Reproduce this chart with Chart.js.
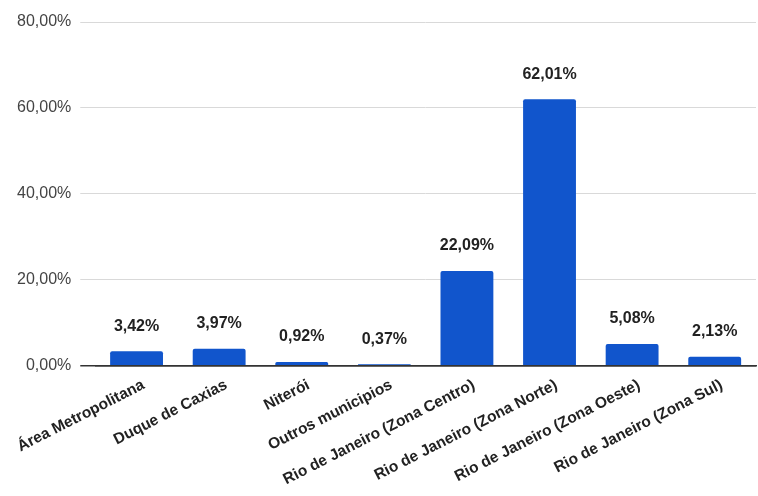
<!DOCTYPE html>
<html>
<head>
<meta charset="utf-8">
<script src="https://cdn.jsdelivr.net/npm/chart.js@4.4.1/dist/chart.umd.min.js"></script>
<style>
  html, body { margin: 0; padding: 0; background: #fff; }
  #wrap { width: 758px; height: 496px; }
</style>
</head>
<body>
<div id="wrap"><canvas id="grafico"></canvas></div>
<script>
var regioes = [
    'Área Metropolitana',
    'Duque de Caxias',
    'Niterói',
    'Outros municipios',
    'Rio de Janeiro (Zona Centro)',
    'Rio de Janeiro (Zona Norte)',
    'Rio de Janeiro (Zona Oeste)',
    'Rio de Janeiro (Zona Sul)'
];
var percentuais = [3.42, 3.97, 0.92, 0.37, 22.09, 62.01, 5.08, 2.13];
var marcasY = [0, 20, 40, 60, 80];

var fonte = 'Arial, "Liberation Sans", sans-serif';

function formatarPct(v) {
    return v.toFixed(2).replace('.', ',') + '%';
}

// escreve o valor acima de cada barra
var rotulosBarras = {
    id: 'rotulosBarras',
    afterDatasetsDraw: function (chart) {
        var ctx = chart.ctx;
        var meta = chart.getDatasetMeta(0);
        ctx.save();
        ctx.font = 'bold 16px ' + fonte;
        ctx.fillStyle = '#222';
        ctx.textAlign = 'center';
        ctx.textBaseline = 'middle';
        meta.data.forEach(function (bar, i) {
            ctx.fillText(formatarPct(percentuais[i]), bar.x, bar.y - 25);
        });
        ctx.restore();
    }
};

var ctx = document.getElementById('grafico').getContext('2d');
var grafico = new Chart(ctx, {
    type: 'bar',
    data: {
        labels: regioes,
        datasets: [{
            data: percentuais,
            backgroundColor: '#1155cc',
            borderRadius: 2,
            borderSkipped: 'bottom',
            barPercentage: 0.64,
            categoryPercentage: 1
        }]
    },
    options: {
        responsive: true,
        maintainAspectRatio: false,
        animation: false,
        layout: { padding: { top: 22, right: 2, left: 8, bottom: 5 } },
        plugins: {
            legend: { display: false },
            tooltip: { enabled: false }
        },
        scales: {
            x: {
                grid: { display: false },
                border: { color: '#333', width: 1.5 },
                // o primeiro rótulo pode invadir a área do eixo y
                afterFit: function (scale) { scale.paddingLeft = 0; },
                ticks: {
                    color: '#222',
                    font: { family: fonte, size: 15.5, weight: 'bold' },
                    minRotation: 27,
                    maxRotation: 27,
                    autoSkip: false,
                    labelOffset: 7,
                    padding: 2
                }
            },
            y: {
                min: 0,
                max: 80,
                afterBuildTicks: function (axis) {
                    axis.ticks = marcasY.map(function (v) { return { value: v }; });
                },
                grid: {
                    color: function (c) { return c.tick.value === 0 ? '#333' : '#d9d9d9'; },
                    lineWidth: function (c) { return c.tick.value === 0 ? 1.5 : 1; },
                    tickLength: 15
                },
                border: { display: false },
                ticks: {
                    color: '#444',
                    font: { family: fonte, size: 16 },
                    padding: 9,
                    callback: function (v) { return formatarPct(v); }
                }
            }
        }
    },
    plugins: [rotulosBarras]
});
</script>
</body>
</html>
